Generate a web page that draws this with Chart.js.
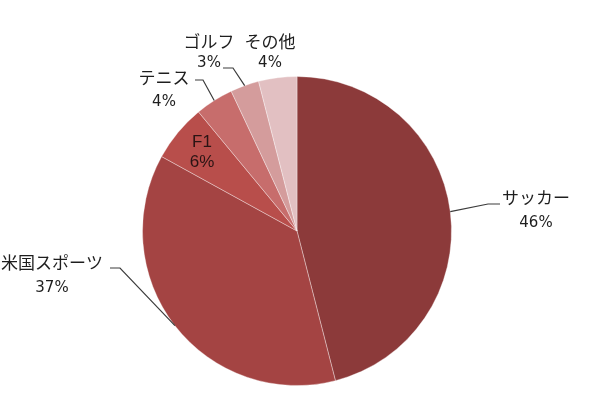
<!DOCTYPE html>
<html>
<head>
<meta charset="utf-8">
<script src="https://cdn.jsdelivr.net/npm/chart.js@4"></script>
<style>
  body { margin: 0; background: #fff; }
  canvas { display: block; }
</style>
</head>
<body>
<canvas id="myChart" width="600" height="400"></canvas>
<script>
const categories = ['サッカー', '米国スポーツ', 'F1', 'テニス', 'ゴルフ', 'その他'];
const shares = [46, 37, 6, 4, 3, 4];
const sliceColors = ['#8c3a3a', '#a44443', '#b84e4b', '#c76d6c', '#d49c9c', '#e2c0c2'];

// where each label sits (text centre, name line y, percent line y) and its leader bend
const labelSpots = [
  { x: 536, ny: 198, py: 223, bend: [488, 204], end: [500, 204] },
  { x: 52, ny: 263, py: 288, bend: [120, 268], end: [110, 268] },
  { x: 202, ny: 142, py: 162, inside: true },
  { x: 164, ny: 78, py: 102, bend: [203, 80], end: [195, 80] },
  { x: 209, ny: 42, py: 63, bend: [233, 68], end: [223, 68] },
  { x: 270, ny: 42, py: 63 }
];

const total = shares.reduce(function(t, v) { return t + v; }, 0);

const pieLabels = {
  id: 'pieLabels',
  afterDraw: function(chart) {
    const ctx = chart.ctx;
    const arcs = chart.getDatasetMeta(0).data;
    ctx.save();
    arcs.forEach(function(arc, i) {
      const spot = labelSpots[i];
      const pct = Math.round(shares[i] / total * 100) + '%';
      if (spot.bend) {
        const mid = (arc.startAngle + arc.endAngle) / 2;
        const ex = arc.x + Math.cos(mid) * arc.outerRadius;
        const ey = arc.y + Math.sin(mid) * arc.outerRadius;
        ctx.strokeStyle = '#3c3c3c';
        ctx.lineWidth = 1.2;
        ctx.beginPath();
        ctx.moveTo(ex, ey);
        ctx.lineTo(spot.bend[0], spot.bend[1]);
        ctx.lineTo(spot.end[0], spot.end[1]);
        ctx.stroke();
      }
      ctx.textAlign = 'center';
      ctx.textBaseline = 'middle';
      if (spot.inside) {
        ctx.fillStyle = '#2a1414';
        ctx.font = '17px "Liberation Sans", Arial, sans-serif';
      } else {
        ctx.fillStyle = '#1e1e1e';
        ctx.font = '17px "Noto Sans CJK JP", sans-serif';
      }
      ctx.fillText(categories[i], spot.x, spot.ny);
      if (!spot.inside) ctx.font = '15px "DejaVu Sans", sans-serif';
      ctx.fillText(pct, spot.x, spot.py);
    });
    ctx.restore();
  }
};

const ctx = document.getElementById('myChart').getContext('2d');
new Chart(ctx, {
  type: 'pie',
  data: {
    labels: categories,
    datasets: [{
      data: shares,
      backgroundColor: sliceColors,
      borderColor: 'rgba(255,255,255,0.35)',
      borderWidth: 1
    }]
  },
  options: {
    responsive: false,
    animation: false,
    layout: { padding: { top: 76, bottom: 14, left: 0, right: 6 } },
    plugins: {
      legend: { display: false },
      tooltip: { enabled: false }
    }
  },
  plugins: [pieLabels]
});
</script>
</body>
</html>
